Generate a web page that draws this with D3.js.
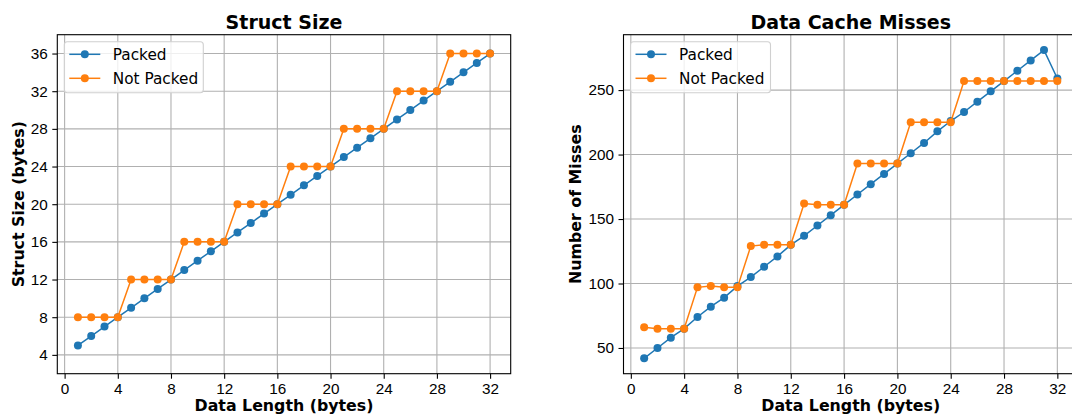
<!DOCTYPE html>
<html>
<head>
<meta charset="utf-8">
<script src="https://cdn.jsdelivr.net/npm/d3@7"></script>
<style>
  body { margin: 0; background: #fff; }
  svg { display: block; font-family: "DejaVu Sans", sans-serif; }
  .grid line { stroke: #b0b0b0; stroke-width: 1.1; }
  .axis path, .axis line { stroke: #000; stroke-width: 1.1; }
  .axis text { font-size: 15.3px; fill: #000; }
  .title { font-size: 19px; font-weight: bold; }
  .label { font-size: 15.8px; font-weight: bold; }
  .legend text { font-size: 15.3px; }
</style>
</head>
<body>
<svg id="chart" width="1072" height="415"></svg>
<script>
// data length (bytes)
var lengths = [1,2,3,4,5,6,7,8,9,10,11,12,13,14,15,16,17,18,19,20,21,22,23,24,25,26,27,28,29,30,31,32]

// struct size (bytes)
var sizePacked    = [5,6,7,8,9,10,11,12,13,14,15,16,17,18,19,20,21,22,23,24,25,26,27,28,29,30,31,32,33,34,35,36]
var sizeNotPacked = [8,8,8,8,12,12,12,12,16,16,16,16,20,20,20,20,24,24,24,24,28,28,28,28,32,32,32,32,36,36,36,36]

// data cache misses
var missPacked    = [42,50,58,65,74,82,89,98,105,113,121,130,137,145,153,161,169,177,185,193,201,209,218,226,233,241,249,257,265,273,281,259]
var missNotPacked = [66,65,65,65,97,98,97,97,129,130,130,130,162,161,161,161,193,193,193,193,225,225,225,225,257,257,257,257,257,257,257,257]

var xTicks = [0,4,8,12,16,20,24,28,32]
var sizeTicks = [4,8,12,16,20,24,28,32,36]
var missTicks = [50,100,150,200,250]

var seriesNames = ['Packed', 'Not Packed']
var colors = ['#1f77b4', '#ff7f0e']

var svg = d3.select('#chart')
var top_ = 34.7, bottom = 373.7

function panel(o) {
  var x = d3.scaleLinear().domain([-0.55, 33.55]).range([o.left, o.right])
  var y = d3.scaleLinear().domain(o.yDomain).range([bottom, top_])

  var g = svg.append('g')

  // grid
  var grid = g.append('g').attr('class', 'grid')
  grid.selectAll(null).data(xTicks).enter().append('line')
    .attr('x1', d => x(d)).attr('x2', d => x(d))
    .attr('y1', bottom).attr('y2', top_)
  grid.selectAll(null).data(o.yTicks).enter().append('line')
    .attr('x1', o.left).attr('x2', o.right)
    .attr('y1', d => y(d)).attr('y2', d => y(d))

  // series
  ;[o.a, o.b].forEach(function(vals, i) {
    var pts = lengths.map((l, j) => [l, vals[j]])
    var line = d3.line().x(d => x(d[0])).y(d => y(d[1]))
    g.append('path').attr('d', line(pts))
      .attr('fill', 'none').attr('stroke', colors[i]).attr('stroke-width', 1.5)
    g.selectAll(null).data(pts).enter().append('circle')
      .attr('cx', d => x(d[0])).attr('cy', d => y(d[1])).attr('r', 4)
      .attr('fill', colors[i])
  })

  // frame
  g.append('rect')
    .attr('x', o.left).attr('y', top_)
    .attr('width', o.right - o.left).attr('height', bottom - top_)
    .attr('fill', 'none').attr('stroke', '#000').attr('stroke-width', 1.1)

  // axes
  var xa = g.append('g').attr('class', 'axis').attr('transform', 'translate(0,' + bottom + ')')
    .call(d3.axisBottom(x).tickValues(xTicks).tickSize(5).tickPadding(4.5))
  xa.select('.domain').remove()
  xa.selectAll('text').attr('dy', '0.72em')
  var ya = g.append('g').attr('class', 'axis').attr('transform', 'translate(' + o.left + ',0)')
    .call(d3.axisLeft(y).tickValues(o.yTicks).tickSize(5).tickPadding(4.5))
  ya.select('.domain').remove()

  // texts
  var cx = (o.left + o.right) / 2
  g.append('text').attr('class', 'title').attr('x', cx).attr('y', 29)
    .attr('text-anchor', 'middle').text(o.title)
  g.append('text').attr('class', 'label').attr('x', cx).attr('y', 410.5)
    .attr('text-anchor', 'middle').text('Data Length (bytes)')
  g.append('text').attr('class', 'label')
    .attr('transform', 'translate(' + o.ylabelX + ',' + ((bottom + top_) / 2) + ') rotate(-90)')
    .attr('text-anchor', 'middle').attr('dy', '0.35em').text(o.ylabel)

  // legend
  var lx = o.left + 7, ly = 41.7
  var leg = g.append('g').attr('class', 'legend')
  leg.append('rect').attr('x', lx).attr('y', ly).attr('width', o.legendW).attr('height', 51)
    .attr('rx', 3).attr('fill', 'rgba(255,255,255,0.8)').attr('stroke', '#d0d0d0').attr('stroke-width', 1.1)
  seriesNames.forEach(function(name, i) {
    var yy = ly + 12.6 + i * 24
    leg.append('line').attr('x1', lx + 5).attr('x2', lx + 36).attr('y1', yy).attr('y2', yy)
      .attr('stroke', colors[i]).attr('stroke-width', 1.5)
    leg.append('circle').attr('cx', lx + 20.5).attr('cy', yy).attr('r', 4).attr('fill', colors[i])
    leg.append('text').attr('x', lx + 48.5).attr('y', yy).attr('dy', '0.36em').text(name)
  })
}

panel({left: 57.3, right: 510.7, yDomain: [2, 38], yTicks: sizeTicks,
  a: sizePacked, b: sizeNotPacked, title: 'Struct Size', ylabel: 'Struct Size (bytes)',
  ylabelX: 18, legendW: 139})

panel({left: 623.5, right: 1078, yDomain: [30.05, 292.95], yTicks: missTicks,
  a: missPacked, b: missNotPacked, title: 'Data Cache Misses', ylabel: 'Number of Misses',
  ylabelX: 575, legendW: 140})
</script>
</body>
</html>
